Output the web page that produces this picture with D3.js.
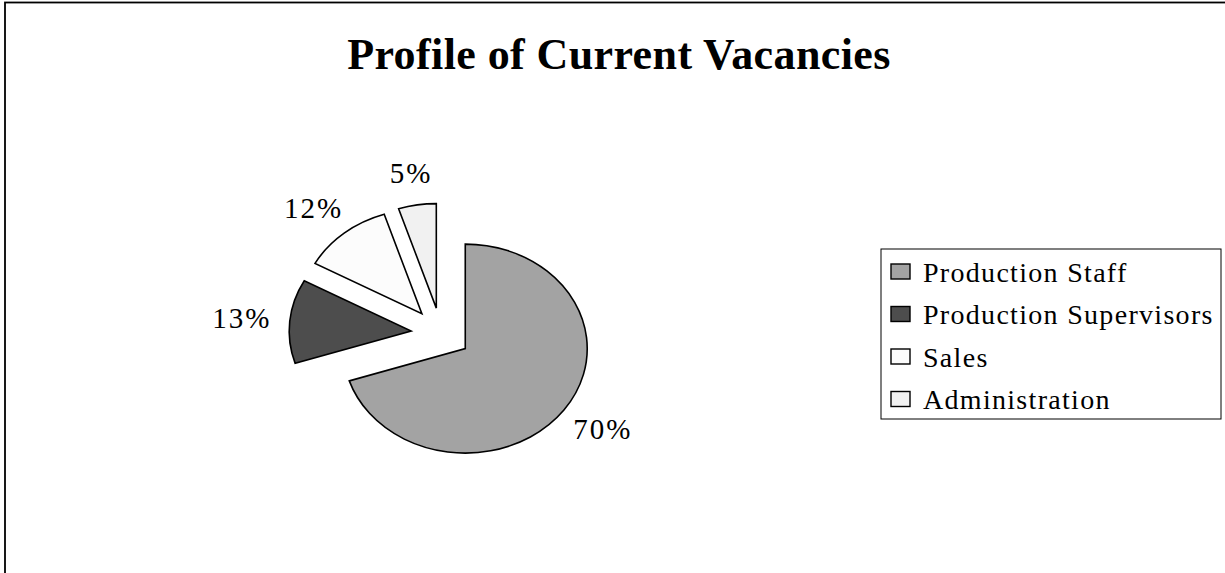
<!DOCTYPE html>
<html>
<head>
<meta charset="utf-8">
<script src="https://cdn.jsdelivr.net/npm/d3@7"></script>
<style>
  body { margin: 0; background: #fff; }
  svg { display: block; }
  text { font-family: "Liberation Serif", "Times New Roman", serif; fill: #000; }
</style>
</head>
<body>
<script>
// data
var categories = ["Production Staff", "Production Supervisors", "Sales", "Administration"];
var values = [70, 13, 12, 5];
var colours = ["#a3a3a3", "#4d4d4d", "#fcfcfc", "#f1f1f1"];
var title = "Profile of Current Vacancies";

var W = 1225, H = 573;

var svg = d3.select("body").append("svg")
    .attr("width", W)
    .attr("height", H);

// outer frame (right and bottom run off the picture)
svg.append("rect")
    .attr("x", 5).attr("y", 2.5)
    .attr("width", 1300).attr("height", 700)
    .attr("fill", "none")
    .attr("stroke", "#000")
    .attr("stroke-width", 1.8);

svg.append("text")
    .attr("x", 619).attr("y", 69)
    .attr("text-anchor", "middle")
    .style("font-size", "44px")
    .style("font-weight", "bold")
    .style("letter-spacing", "0.4px")
    .text(title);

var colour = d3.scaleOrdinal().domain(categories).range(colours);

// pie - drawn as a circle then squeezed into an ellipse (plot area is wider than tall)
var cx = 441, cy = 333.5, R = 104.5, sx = 1.167, explode = 25.7;
var labelRx = 146, labelRy = 153;

var pie = d3.pie().sort(null).value(function (d) { return d; });
var arc = d3.arc().innerRadius(0).outerRadius(R);
var arcs = pie(values);

function mid(d) { return (d.startAngle + d.endAngle) / 2; }

var pg = svg.append("g")
    .attr("transform", "translate(" + cx + "," + cy + ") scale(" + sx + ",1)");

pg.selectAll("path")
    .data(arcs)
    .enter().append("path")
    .attr("d", arc)
    .attr("transform", function (d) {
        var a = mid(d);
        return "translate(" + (Math.sin(a) * explode) + "," + (-Math.cos(a) * explode) + ")";
    })
    .attr("fill", function (d, i) { return colour(categories[i]); })
    .attr("stroke", "#000")
    .attr("stroke-width", 1.6)
    .attr("vector-effect", "non-scaling-stroke");

// percent labels outside each slice
var lbl = svg.append("g").attr("transform", "translate(" + cx + "," + cy + ")");

lbl.selectAll("text")
    .data(arcs)
    .enter().append("text")
    .style("font-size", "29px")
    .style("letter-spacing", "2px")
    .attr("text-anchor", "middle")
    .text(function (d) { return d.value + "%"; })
    .each(function (d) {
        var a = mid(d);
        var w = this.getComputedTextLength(), h = 20;
        var x = Math.sin(a) * labelRx * sx + Math.sin(a) * w / 2;
        var y = -Math.cos(a) * labelRy - Math.cos(a) * h / 2;
        d3.select(this).attr("x", x).attr("y", y + 10);
    });

// legend
var lx = 881, ly = 249, lw = 340, lh = 170, rowH = 42.5;

svg.append("rect")
    .attr("x", lx).attr("y", ly)
    .attr("width", lw).attr("height", lh)
    .attr("fill", "#fff")
    .attr("stroke", "#000")
    .attr("stroke-width", 1);

var item = svg.selectAll("g.item")
    .data(categories)
    .enter().append("g")
    .attr("class", "item")
    .attr("transform", function (d, i) { return "translate(" + (lx + 10) + "," + (ly + 22.5 + i * rowH) + ")"; });

item.append("rect")
    .attr("x", 0).attr("y", -7.5)
    .attr("width", 19).attr("height", 15)
    .attr("fill", function (d) { return colour(d); })
    .attr("stroke", "#000")
    .attr("stroke-width", 1.4);

item.append("text")
    .attr("x", 32).attr("y", 10)
    .style("font-size", "28px")
    .style("letter-spacing", "1.3px")
    .text(function (d) { return d; });
</script>
</body>
</html>
